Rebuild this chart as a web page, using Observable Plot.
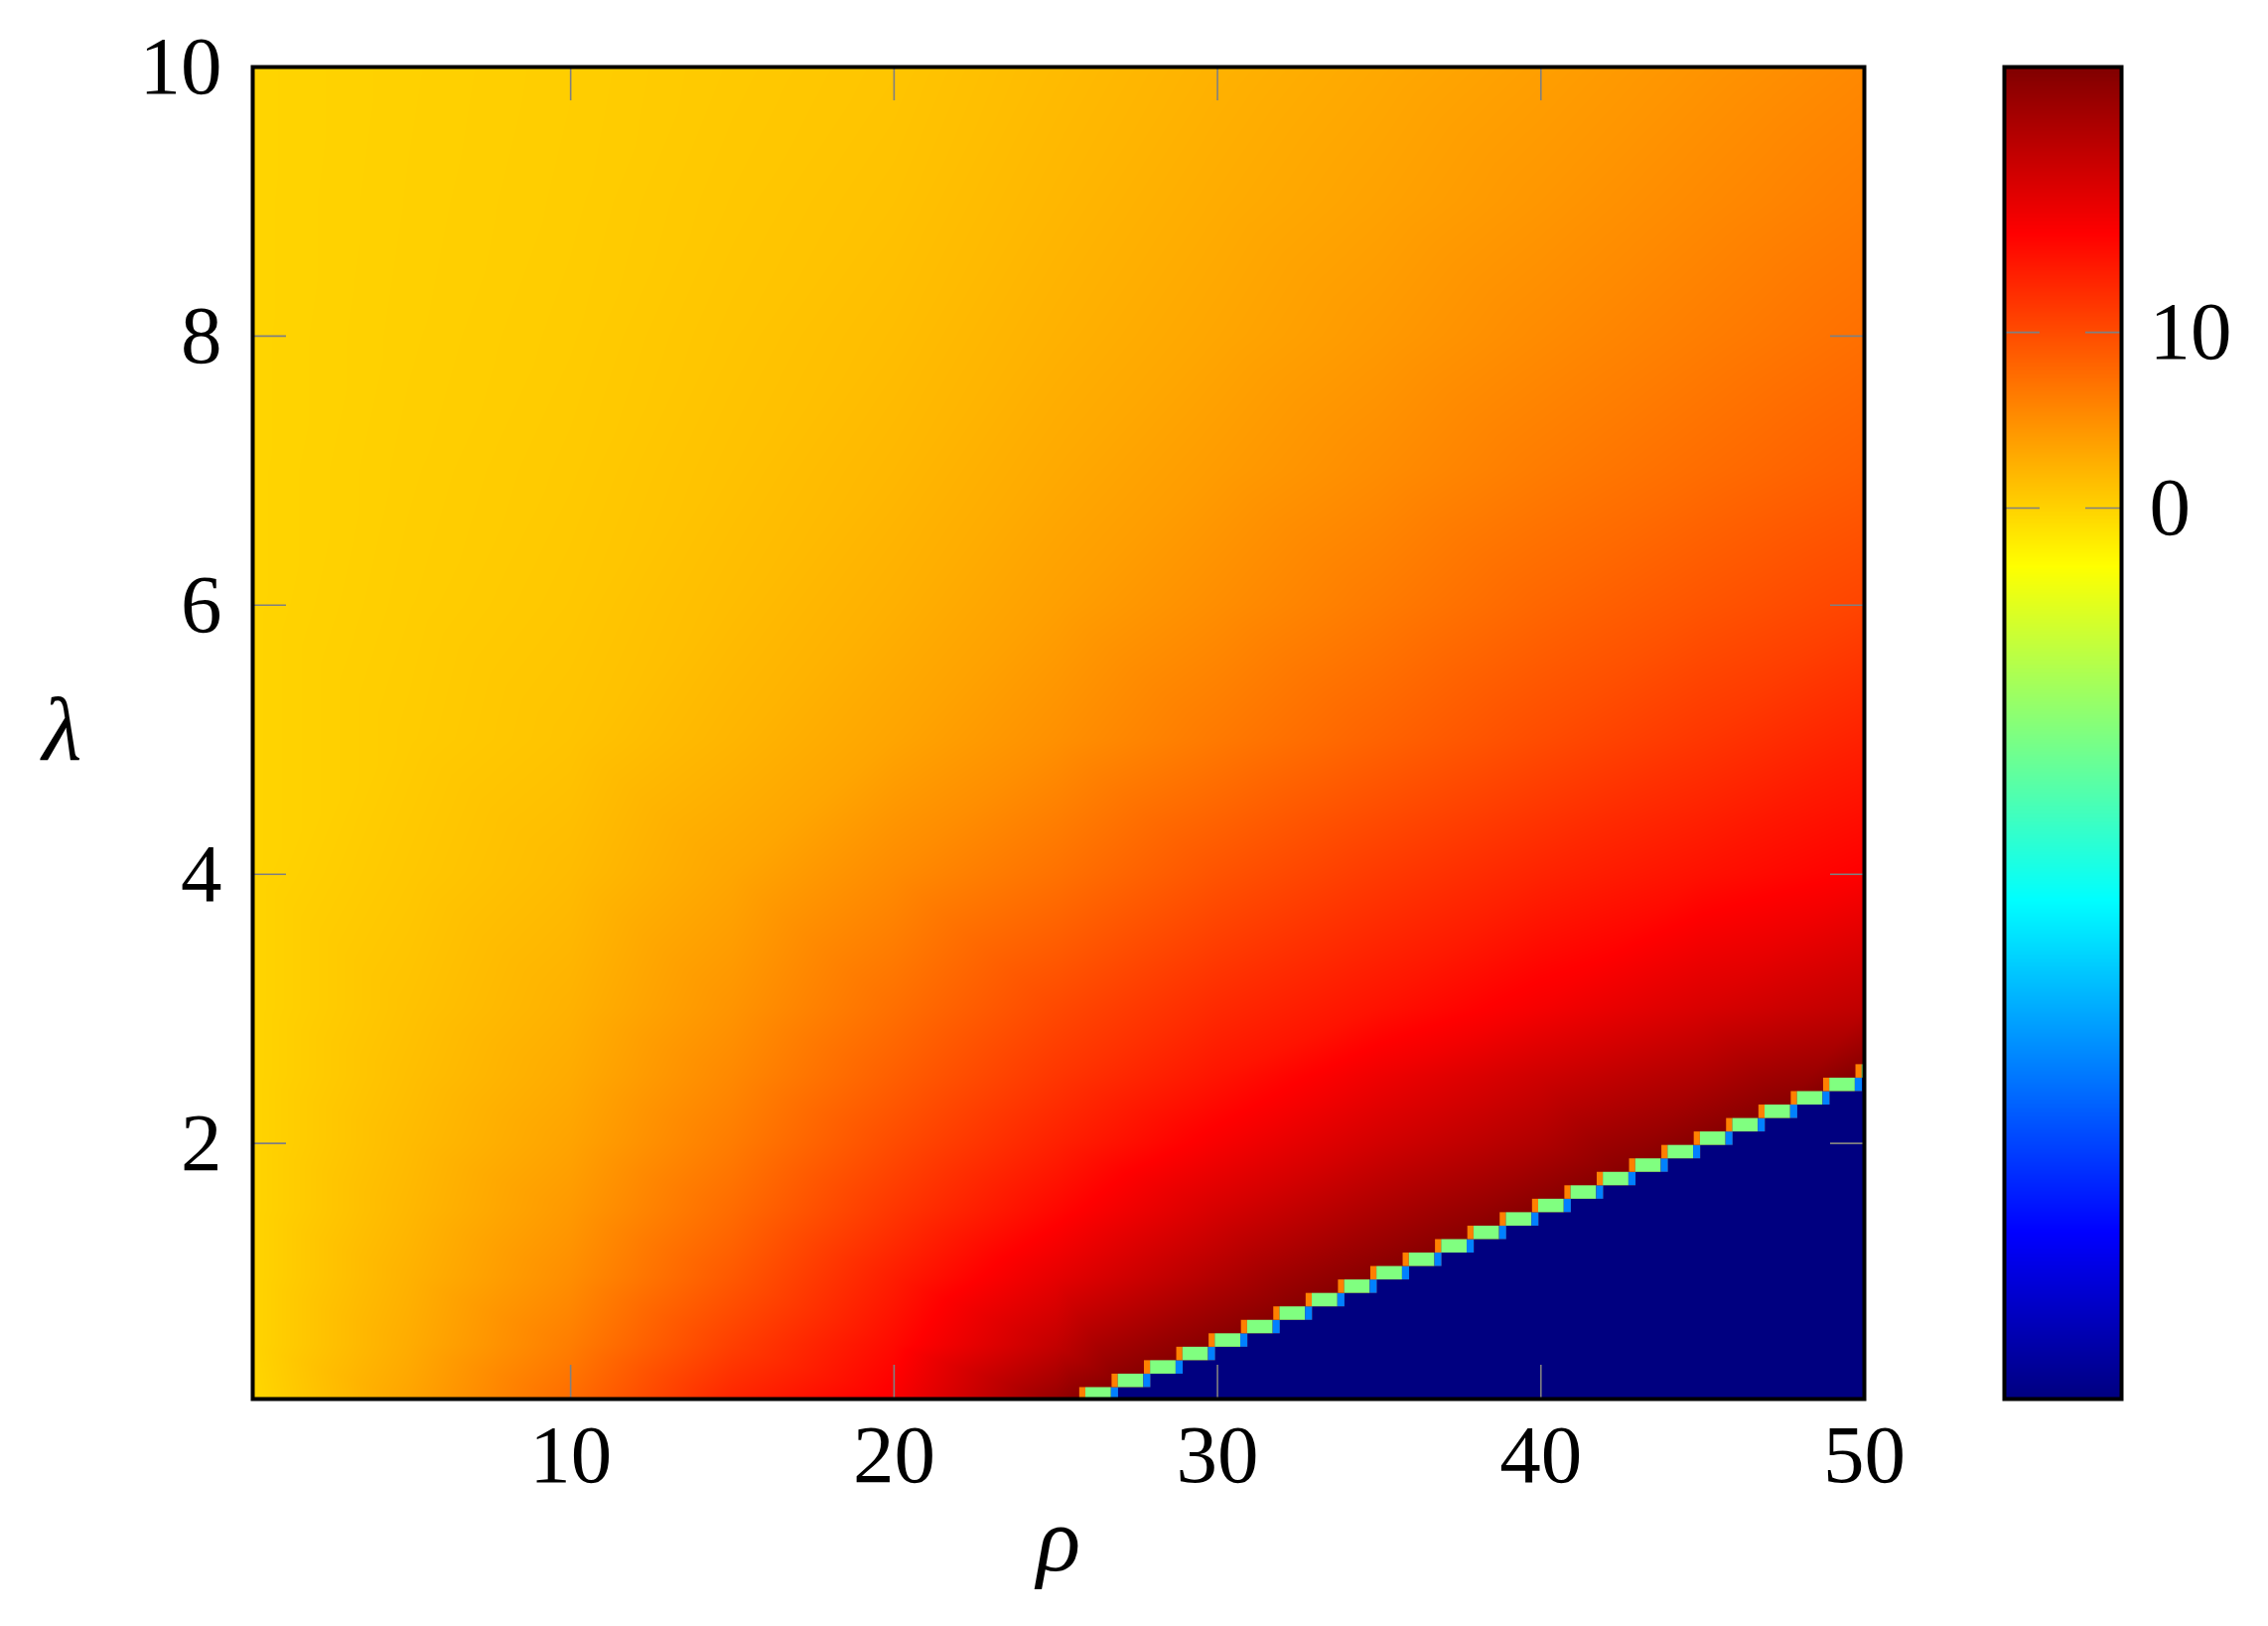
<!DOCTYPE html>
<html>
<head>
<meta charset="utf-8">
<script src="https://cdn.jsdelivr.net/npm/d3@7"></script>
<script src="https://cdn.jsdelivr.net/npm/@observablehq/plot@0.6"></script>
<style>
html, body { margin: 0; padding: 0; background: #fff; }
#wrap { position: relative; width: 2284px; height: 1637px; }
#wrap svg { position: absolute; top: 0; }
</style>
</head>
<body>
<div id="wrap"></div>
<script>
// ---------------- data ----------------
const rhoMin = 0.17, rhoMax = 50;
const lambdaMin = 0.1, lambdaMax = 10;
const vMin = -50.7, vMax = 25.1;             // colour bar range

const xTicks = [10, 20, 30, 40, 50];
const yTicks = [2, 4, 6, 8, 10];
const barTicks = [0, 10];

// pgfplots "jet" colormap
const jetStops  = [0, 0.125, 0.375, 0.625, 0.875, 1];
const jetColors = ["#000080", "#0000ff", "#00ffff", "#ffff00", "#ff0000", "#800000"];

// field sampled on a coarse grid (null = masked region below the boundary)
const rhoGrid    = [0.2, 5, 10, 15, 20, 25, 30, 35, 40, 45, 50];
const lambdaGrid = [0.1, 0.5, 1, 1.5, 2, 2.5, 3, 4, 5, 6, 7, 8, 9, 10];
const fieldValues = [
  [-0.36, 3.40, 7.55, 12.82, 16.03, 23.30, null,  null,  null,  null,  null ],  // λ = 0.1
  [-0.13, 2.84, 6.32, 10.94, 14.90, 20.08, null,  null,  null,  null,  null ],  // 0.5
  [-0.13, 2.42, 5.10,  9.06, 13.48, 17.44, 21.30, null,  null,  null,  null ],  // 1
  [-0.13, 1.99, 4.25,  7.64, 11.60, 15.08, 18.66, 21.77, null,  null,  null ],  // 1.5
  [-0.13, 1.71, 3.50,  6.42, 10.00, 13.20, 16.12, 18.95, 21.49, null,  null ],  // 2
  [-0.13, 1.43, 2.93,  5.48,  8.58, 11.60, 14.14, 16.78, 19.23, 21.49, null ],  // 2.5
  [-0.13, 1.19, 2.46,  4.63,  7.36, 10.19, 12.54, 14.33, 16.31, 18.47, 20.36],  // 3
  [-0.13, 0.77, 1.71,  3.31,  5.29,  7.17,  9.43, 11.32, 13.01, 14.42, 15.74],  // 4
  [-0.13, 0.47, 1.10,  2.18,  3.40,  4.91,  6.61,  8.30, 10.00, 11.60, 13.20],  // 5
  [-0.13, 0.34, 0.81,  1.61,  2.56,  3.78,  5.10,  6.51,  8.02,  9.34, 10.56],  // 6
  [-0.13, 0.25, 0.62,  1.24,  1.99,  3.03,  4.06,  5.19,  6.42,  7.55,  8.68],  // 7
  [-0.13, 0.18, 0.48,  1.00,  1.57,  2.46,  3.31,  4.25,  5.29,  6.32,  7.36],  // 8
  [-0.13, 0.14, 0.39,  0.81,  1.24,  2.04,  2.84,  3.59,  4.44,  5.38,  6.32],  // 9
  [-0.13, 0.11, 0.34,  0.67,  1.00,  1.71,  2.42,  3.12,  3.83,  4.63,  5.48]   // 10
];

// values along the stability boundary (dark red edge)
const boundaryRho    = [25.74, 27.0, 30.0, 32.5, 35.0, 37.5, 40.0, 42.5, 45.0, 47.5, 50.0];
const boundaryLambda = [0.10, 0.21, 0.51, 0.76, 1.01, 1.26, 1.51, 1.76, 2.01, 2.26, 2.55];
const boundaryValue  = [24.55, 24.55, 24.55, 24.55, 24.55, 24.55, 24.55, 24.55, 24.55, 24.55, 24.55];

// staircase rows of the boundary: start ρ of each row and its λ extent
const stairRho = [25.74, 26.74, 27.74, 28.74, 29.74, 30.74, 31.74, 32.74, 33.74, 34.74,
                  35.74, 36.74, 37.74, 38.74, 39.74, 40.74, 41.74, 42.74, 43.74, 44.74,
                  45.74, 46.74, 47.74, 48.74, 49.74];
const stairLo  = [0.100, 0.185, 0.285, 0.385, 0.485, 0.585, 0.685, 0.785, 0.885, 0.985,
                  1.085, 1.185, 1.285, 1.385, 1.485, 1.585, 1.685, 1.785, 1.885, 1.985,
                  2.085, 2.185, 2.285, 2.385, 2.485];
const stairHi  = [0.185, 0.285, 0.385, 0.485, 0.585, 0.685, 0.785, 0.885, 0.985, 1.085,
                  1.185, 1.285, 1.385, 1.485, 1.585, 1.685, 1.785, 1.885, 1.985, 2.085,
                  2.185, 2.285, 2.385, 2.485, 2.585];
// cells in each row (offsets in ρ from the row start) and their colour-scale values
const stripeNames   = ["orange", "green", "blue"];
const stripeFrom    = [0, 0.19, 0.98];
const stripeTo      = [0.19, 0.98, 1.20];
const stripeValues  = [6.15, -12.8, -31.75];
const maskValue     = -50.7;   // region below the boundary

// ---------------- build tables ----------------
const fieldPoints = [];
lambdaGrid.forEach((lam, j) => rhoGrid.forEach((rho, i) => {
  const v = fieldValues[j][i];
  if (v != null) fieldPoints.push({rho, lam, v});
}));
boundaryRho.forEach((rho, k) => fieldPoints.push({rho, lam: boundaryLambda[k], v: boundaryValue[k]}));

const stairCells = [];
stairRho.forEach((r, i) => {
  // masked region (extends down to the bottom so rows overlap without seams)
  stairCells.push({x1: r + stripeTo[2], x2: rhoMax, y1: lambdaMin, y2: stairHi[i], v: maskValue});
  stripeNames.forEach((name, k) => {
    stairCells.push({x1: r + stripeFrom[k], x2: r + stripeTo[k], y1: stairLo[i], y2: stairHi[i], v: stripeValues[k]});
  });
});

const jet = d3.scaleLinear().domain(jetStops).range(jetColors).clamp(true);
const colorScale = {type: "linear", domain: [vMin, vMax], interpolate: (t) => jet(t), clamp: true};

const font = "Liberation Serif";
const fs = 83;
const fsGreek = 92;
const gray = "#808080";
const tickLen = 34;

const mL = 254, mR = 407, mT = 67, mB = 229, W = 2284, H = 1637;
const frameW = W - mL - mR, frameH = H - mT - mB;

const main = Plot.plot({
  width: W, height: H,
  marginLeft: mL, marginRight: mR, marginTop: mT, marginBottom: mB,
  x: {domain: [rhoMin, rhoMax]},
  y: {domain: [lambdaMin, lambdaMax]},
  color: colorScale,
  style: {fontFamily: font, background: "white", overflow: "visible"},
  marks: [
    Plot.raster(fieldPoints, {
      x: "rho", y: "lam", fill: "v",
      x1: rhoMin, x2: rhoMax, y1: lambdaMin, y2: lambdaMax,
      interpolate: "barycentric"
    }),
    Plot.rect(stairCells, {x1: "x1", x2: "x2", y1: "y1", y2: "y2", fill: "v", clip: true}),
    Plot.ruleX(xTicks, {x: (d) => d, insetTop: frameH - tickLen, stroke: gray, strokeWidth: 1.6}),
    Plot.ruleX(xTicks, {x: (d) => d, insetBottom: frameH - tickLen, stroke: gray, strokeWidth: 1.6}),
    Plot.ruleY(yTicks, {y: (d) => d, insetRight: frameW - tickLen, stroke: gray, strokeWidth: 1.6}),
    Plot.ruleY(yTicks, {y: (d) => d, insetLeft: frameW - tickLen, stroke: gray, strokeWidth: 1.6}),
    Plot.frame({stroke: "black", strokeWidth: 4}),
    Plot.axisX({ticks: xTicks, tickSize: 0, tickPadding: 25, fontSize: fs, fontFamily: font, label: null}),
    Plot.axisY({ticks: yTicks, tickSize: 0, tickPadding: 31, fontSize: fs, fontFamily: font, label: null}),
    Plot.text(["λ"], {text: (d) => d, frameAnchor: "left", dx: -212, dy: -2, fontSize: fsGreek, fontFamily: font, fontStyle: "italic"}),
    Plot.text(["ρ"], {text: (d) => d, frameAnchor: "bottom", dy: 172, fontSize: fsGreek, fontFamily: font, fontStyle: "italic"})
  ]
});
main.style.left = "0px";

const barLeft = 1900;
const bL = 2018 - barLeft, bR = W - 2136, barW = 2136 - 2018;
const bar = Plot.plot({
  width: W - barLeft, height: H,
  marginLeft: bL, marginRight: bR, marginTop: mT, marginBottom: mB,
  x: {domain: [0, 1], axis: null},
  y: {domain: [vMin, vMax]},
  color: colorScale,
  style: {fontFamily: font, background: "transparent", overflow: "visible"},
  marks: [
    Plot.raster({fill: (x, y) => y, x1: 0, x2: 1, y1: vMin, y2: vMax}),
    Plot.ruleY(barTicks, {y: (d) => d, insetRight: barW - tickLen - 2, stroke: gray, strokeWidth: 1.6}),
    Plot.ruleY(barTicks, {y: (d) => d, insetLeft: barW - tickLen - 2, stroke: gray, strokeWidth: 1.6}),
    Plot.frame({stroke: "black", strokeWidth: 4}),
    Plot.axisY({anchor: "right", ticks: barTicks, tickSize: 0, tickPadding: 28, fontSize: fs, fontFamily: font, label: null})
  ]
});
bar.style.left = barLeft + "px";

const wrap = document.getElementById("wrap");
wrap.appendChild(main);
wrap.appendChild(bar);
</script>
</body>
</html>
